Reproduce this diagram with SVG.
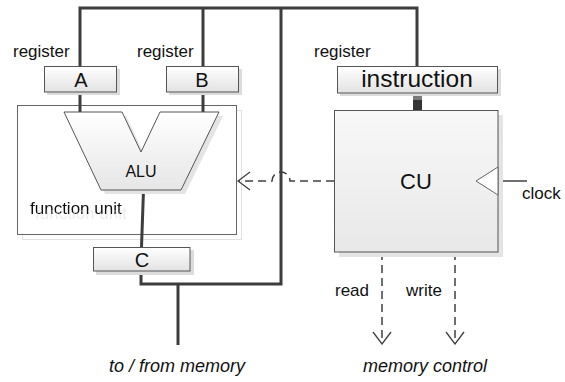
<svg xmlns="http://www.w3.org/2000/svg" width="565" height="382" viewBox="0 0 565 382">
  <defs>
    <linearGradient id="gReg" x1="0" y1="0" x2="0" y2="1">
      <stop offset="0" stop-color="#ffffff"/>
      <stop offset="1" stop-color="#e2e2e2"/>
    </linearGradient>
    <linearGradient id="gCu" x1="0" y1="0" x2="0" y2="1">
      <stop offset="0" stop-color="#f8f8f8"/>
      <stop offset="1" stop-color="#e8e8e8"/>
    </linearGradient>
    <linearGradient id="gAlu" x1="0" y1="0" x2="0" y2="1">
      <stop offset="0" stop-color="#ffffff"/>
      <stop offset="1" stop-color="#e6e6e6"/>
    </linearGradient>
    <!-- soft offset shadow for the container caption -->
    <filter id="textShadow" x="-10%" y="-30%" width="130%" height="180%">
      <feOffset in="SourceAlpha" dx="5" dy="5" result="off"/>
      <feFlood flood-color="#ececec"/>
      <feComposite in2="off" operator="in" result="sh"/>
      <feMerge>
        <feMergeNode in="sh"/>
        <feMergeNode in="SourceGraphic"/>
      </feMerge>
    </filter>
    <marker id="openArrow" viewBox="0 0 14 20" refX="13" refY="10" markerWidth="14" markerHeight="20" markerUnits="userSpaceOnUse" orient="auto">
      <path d="M1,1 L13,10 L1,19" fill="none" stroke="#404040" stroke-width="1.3"/>
    </marker>
    <style>
      text { font-family: "Liberation Sans", Arial, sans-serif; fill: #111; }
      .lbl { font-size: 17px; }
      .reg { font-size: 20px; text-anchor: middle; }
      .it { font-size: 18px; font-style: italic; text-anchor: middle; }
      .box { fill: url(#gReg); stroke: #555; stroke-width: 1; }
      .shadow { fill: #dcdcdc; }
      .bus { fill: none; stroke: #3d3d3d; stroke-width: 3; stroke-linejoin: miter; }
      .dash { fill: none; stroke: #404040; stroke-width: 1.5; stroke-dasharray: 8 5; }
    </style>
  </defs>

  <!-- function unit container -->
  <g id="functionUnit">
    <rect x="22.5" y="110.5" width="219" height="129" fill="none" stroke="#e2e2e2" stroke-width="1"/>
    <rect x="17.5" y="105.5" width="219" height="129" fill="#ffffff" stroke="#666" stroke-width="1"/>
    <text x="30" y="214" class="lbl" filter="url(#textShadow)">function unit</text>
  </g>

  <!-- connectors -->
  <g id="connectors">
    <!-- data bus -->
    <path class="bus" d="M80,66 V8 H417 V66"/>
    <path class="bus" d="M203,8 V66"/>
    <path class="bus" d="M281,8 V284 H141 V271"/>
    <path class="bus" d="M178,284 V345"/>
    <path class="bus" d="M80,92 V112"/>
    <path class="bus" d="M203,92 V112"/>
    <path class="bus" d="M143.5,190 L141.5,247"/>
    <!-- instruction to CU -->
    <rect x="413" y="93" width="9" height="17" fill="#333"/>
    <rect x="413" y="93" width="9" height="7" fill="#7a7a7a"/>
    <!-- control signal to function unit, hopping over the bus -->
    <path class="dash" d="M334,181 H290 A9,9 0 0 0 272,181 H238" marker-end="url(#openArrow)"/>
    <!-- memory control lines -->
    <path class="dash" d="M382,252 V344" marker-end="url(#openArrow)"/>
    <path class="dash" d="M455,252 V344" marker-end="url(#openArrow)"/>
    <!-- clock input -->
    <path d="M498,181 H527" fill="none" stroke="#404040" stroke-width="1.5"/>
  </g>

  <!-- ALU -->
  <g id="alu">
    <polygon points="68,116 126,116 145,156 164,116 223,116 185,194 105,194" fill="#e4e4e4"/>
    <polygon points="64,112 122,112 141,152 160,112 219,112 181,190 101,190" fill="url(#gAlu)" stroke="#555" stroke-width="1"/>
    <text x="141" y="177" style="font-size:16px;text-anchor:middle">ALU</text>
  </g>

  <!-- register A -->
  <g id="regA">
    <rect x="47" y="69" width="73" height="26" class="shadow"/>
    <rect x="44.5" y="66.5" width="72" height="25.5" class="box"/>
    <text x="81" y="87" class="reg">A</text>
  </g>

  <!-- register B -->
  <g id="regB">
    <rect x="169" y="69" width="73" height="26" class="shadow"/>
    <rect x="166.5" y="66.5" width="72" height="25.5" class="box"/>
    <text x="202" y="87" class="reg">B</text>
  </g>

  <!-- instruction register -->
  <g id="regInstruction">
    <rect x="340" y="69" width="161" height="27" class="shadow"/>
    <rect x="337.5" y="66.5" width="160" height="26.5" class="box"/>
    <text x="417" y="87" style="font-size:24.5px;text-anchor:middle">instruction</text>
  </g>

  <!-- register C -->
  <g id="regC">
    <rect x="96" y="250" width="98" height="25" class="shadow"/>
    <rect x="93.5" y="247.5" width="96.5" height="23.5" class="box"/>
    <text x="142" y="267" class="reg">C</text>
  </g>

  <!-- control unit -->
  <g id="cu">
    <rect x="339" y="115" width="164" height="142" fill="#e4e4e4"/>
    <rect x="334.5" y="110.5" width="163.5" height="141.5" fill="url(#gCu)" stroke="#555" stroke-width="1"/>
    <polygon points="498,167 476,181 498,195" fill="#ffffff" stroke="#666" stroke-width="1"/>
    <text x="416" y="189" style="font-size:22px;text-anchor:middle">CU</text>
  </g>

  <!-- labels -->
  <g id="labels">
    <text x="13" y="57" class="lbl">register</text>
    <text x="137" y="57" class="lbl">register</text>
    <text x="314" y="57" class="lbl">register</text>
    <text x="522" y="199" class="lbl">clock</text>
    <text x="335" y="296" class="lbl">read</text>
    <text x="406" y="296" class="lbl">write</text>
    <text x="177" y="372" class="it">to / from memory</text>
    <text x="425" y="372" class="it">memory control</text>
  </g>
</svg>
